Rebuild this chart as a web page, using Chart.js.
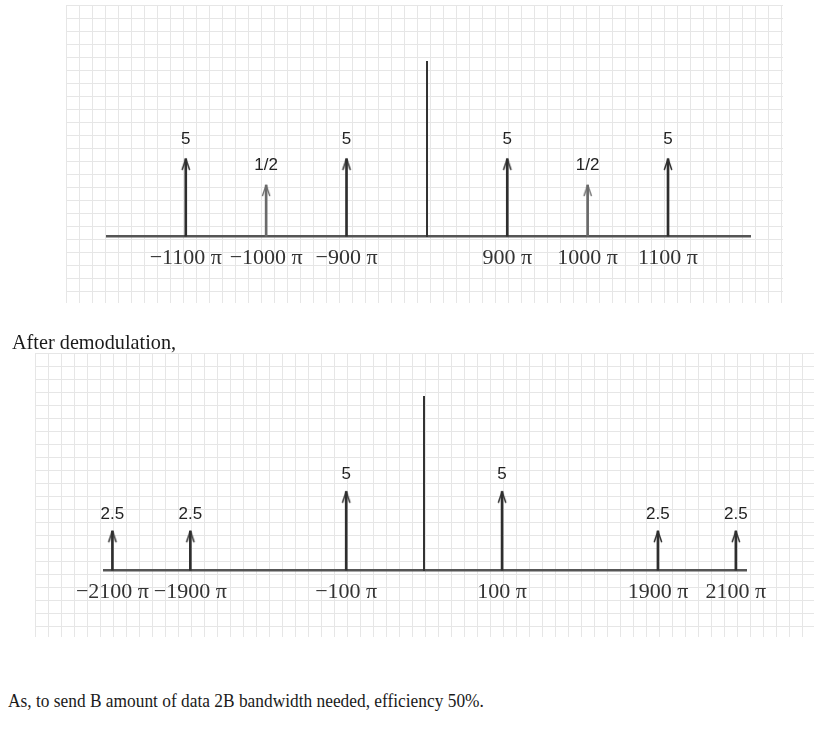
<!DOCTYPE html>
<html><head><meta charset="utf-8">
<script src="https://cdn.jsdelivr.net/npm/chart.js@4.4.1/dist/chart.umd.min.js"></script>
<style>
html,body{margin:0;padding:0;background:#fff;width:839px;height:736px;overflow:hidden;position:relative}
.grid{position:absolute;background-image:linear-gradient(to right,#e6e6e6 1px,transparent 1px),linear-gradient(to bottom,#e6e6e6 1px,transparent 1px);background-size:13px 13px;}
#g1{left:66px;top:5px;width:717px;height:298px}
#g2{left:35px;top:353px;width:779px;height:284px}
.cv{position:absolute;left:0}
#w1{top:0;width:839px;height:300px}
#w2{top:310px;width:839px;height:330px}
.txt{position:absolute;font-family:'Liberation Serif','Times New Roman',serif;color:#1a1a1a;white-space:nowrap;transform-origin:0 0}
</style></head><body>
<div class="grid" id="g1"></div>
<div class="grid" id="g2"></div>
<div class="cv" id="w1"><canvas id="c1"></canvas></div>
<div class="cv" id="w2"><canvas id="c2"></canvas></div>
<div class="txt" style="left:12px;top:331px;font-size:22px;line-height:22px;transform:scaleX(0.92)">After demodulation,</div>
<div class="txt" style="left:8px;top:691px;font-size:19.5px;line-height:20px;transform:scaleX(0.89)">As, to send B amount of data 2B bandwidth needed, efficiency 50%.</div>
<script>
// ---- data (frequencies in multiples of π rad/s) ----
const topFreqs = [-1100, -1000, -900, 900, 1000, 1100];
const topAmps = [5, 0.5, 5, 5, 0.5, 5];
const topAmpLabels = ['5', '1/2', '5', '5', '1/2', '5'];
const topTickLabels = ['−1100 π', '−1000 π', '−900 π', '900 π', '1000 π', '1100 π'];

const botFreqs = [-2100, -1900, -100, 100, 1900, 2100];
const botAmps = [2.5, 2.5, 5, 5, 2.5, 2.5];
const botAmpLabels = ['2.5', '2.5', '5', '5', '2.5', '2.5'];
const botTickLabels = ['−2100 π', '−1900 π', '−100 π', '100 π', '1900 π', '2100 π'];

// sketch axes are not to scale: ordered slots, null = empty gap
const topAxisSlots = [-1100, -1000, -900, 0, 900, 1000, 1100];
const botAxisSlots = [-2100, -1900, null, -100, 0, 100, null, 1900, 2100];

function arrowHead(color, lw) {
  const c = document.createElement('canvas');
  c.width = 12; c.height = 26;
  const g = c.getContext('2d');
  g.strokeStyle = color; g.lineWidth = lw; g.lineCap = 'round'; g.lineJoin = 'round';
  g.beginPath(); g.moveTo(2.4, 23.5); g.lineTo(6, 13); g.lineTo(9.6, 23.5); g.stroke();
  return c;
}
const headDark = arrowHead('#2a2a2a', 1.5);
const headLight = arrowHead('#555', 1.2);

const ampLabelPlugin = {
  id: 'ampLabels',
  afterDatasetsDraw(chart, args, opts) {
    const meta = chart.getDatasetMeta(0);
    const g = chart.ctx;
    g.save();
    g.font = '17px "Liberation Sans", Arial, sans-serif';
    g.fillStyle = '#222';
    g.textAlign = 'center';
    g.textBaseline = 'middle';
    meta.data.forEach((el, i) => g.fillText(opts.labels[i], el.x, el.y - opts.gap));
    g.restore();
  }
};

function makeChart(id, freqs, amps, ampLabels, tickLabels, slots, yOpts, xMin, xMax, pad, gap, light) {
  const xs = freqs.map(f => slots.indexOf(f));
  const origin = slots.indexOf(0);
  const pts = xs.map((x, i) => ({ x: x, y: amps[i] }));
  return new Chart(document.getElementById(id), {
    data: {
      datasets: [
        { type: 'bar', data: pts, barThickness: 2, grouped: false, borderWidth: 0,
          backgroundColor: ctx => light(ctx.raw) ? '#6a6a6a' : '#2e2e2e' },
        { type: 'scatter', data: pts, pointRadius: 6, pointHoverRadius: 6,
          pointStyle: ctx => light(ctx.raw) ? headLight : headDark }
      ]
    },
    options: {
      responsive: true, maintainAspectRatio: false, animation: false,
      layout: { padding: pad },
      plugins: { legend: { display: false }, tooltip: { enabled: false },
                 ampLabels: { labels: ampLabels, gap: gap } },
      scales: {
        x: {
          type: 'linear', min: xMin, max: xMax, offset: false,
          grid: { display: false },
          border: { display: true, color: '#555', width: 2.5 },
          afterBuildTicks: s => { s.ticks = xs.map(v => ({ value: v })); },
          ticks: {
            autoSkip: false, maxRotation: 0, padding: 0, color: '#333',
            font: { family: "'Liberation Serif', 'Times New Roman', serif", size: 22 },
            callback: v => { const i = xs.indexOf(v); return i >= 0 ? tickLabels[i] : ''; }
          }
        },
        y: Object.assign({
          position: { x: origin },
          grid: { display: false },
          ticks: { display: false },
          border: { display: true, color: '#333', width: 2 }
        }, yOpts)
      }
    },
    plugins: [ampLabelPlugin]
  });
}

makeChart('c1', topFreqs, topAmps, topAmpLabels, topTickLabels, topAxisSlots,
  { type: 'logarithmic', min: 0.0055, max: 24600 },
  -0.98, 7.02, { left: 107, right: 89, top: 62, bottom: 29 }, 20,
  p => p && p.y < 1);

makeChart('c2', botFreqs, botAmps, botAmpLabels, botTickLabels, botAxisSlots,
  { type: 'linear', min: 0, max: 11 },
  -0.108, 8.13, { left: 104, right: 93, top: 87, bottom: 35 }, 17,
  p => false);
</script>
</body></html>
